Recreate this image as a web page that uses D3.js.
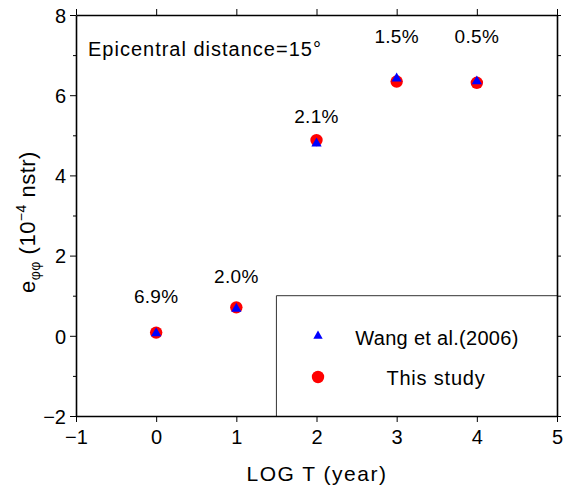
<!DOCTYPE html>
<html><head><meta charset="utf-8">
<script src="https://cdn.jsdelivr.net/npm/d3@7"></script>
<style>body{margin:0;background:#fff}text{font-family:"Liberation Sans",Arial,Helvetica,sans-serif;fill:#000}</style>
</head><body><svg id="c" width="563" height="486"></svg>
<script>
const logT = [0, 1, 2, 3, 4];
const wang = [0.09, 0.70, 4.82, 6.44, 6.37];
const thisStudy = [0.08, 0.71, 4.88, 6.34, 6.31];
const pctLabels = ["6.9%", "2.0%", "2.1%", "1.5%", "0.5%"];
const pctY = [0.81, 1.31, 5.3, 7.31, 7.31];
const xTicks = [-1, 0, 1, 2, 3, 4, 5];
const yTicks = [-2, 0, 2, 4, 6, 8];
const yMinor = [-1, 1, 3, 5, 7];
const yAll = [-2, -1, 0, 1, 2, 3, 4, 5, 6, 7, 8];

const svg = d3.select("#c");
const L = 76, R = 557, T = 15, B = 416;
const x = d3.scaleLinear().domain([-1, 5]).range([L, R]);
const y = d3.scaleLinear().domain([-2, 8]).range([B, T]);
const fmt = d => d < 0 ? "\u2212" + Math.abs(d) : String(d);

// legend box
svg.append("path").attr("d", `M${x(1.5)},${B} V${y(1)} H${R}`)
  .attr("fill", "none").attr("stroke", "#333").attr("stroke-width", 1);

// bottom axis
const gb = svg.append("g").attr("transform", `translate(0,${B})`)
  .call(d3.axisBottom(x).tickValues(xTicks).tickFormat(fmt).tickSize(6).tickSizeOuter(0));
// left axis
const gl = svg.append("g").attr("transform", `translate(${L},0)`)
  .call(d3.axisLeft(y).tickValues(yTicks).tickFormat(fmt).tickSize(6).tickSizeOuter(0));
svg.append("g").attr("transform", `translate(${L},0)`)
  .call(d3.axisLeft(y).tickValues(yMinor).tickFormat("").tickSize(3).tickSizeOuter(0))
  .select(".domain").remove();
// top axis
const gt = svg.append("g").attr("transform", `translate(0,${T})`)
  .call(d3.axisTop(x).tickValues(xTicks).tickFormat("").tickSize(6).tickSizeOuter(0));
// right axis
const gr = svg.append("g").attr("transform", `translate(${R},0)`)
  .call(d3.axisRight(y).tickValues(yAll).tickFormat("").tickSize(4).tickSizeOuter(0));

svg.selectAll(".domain").attr("stroke", "#000").attr("stroke-width", 1.6);
svg.selectAll(".tick line").attr("stroke", "#000").attr("stroke-width", 1);
svg.selectAll(".tick text").attr("font-size", 20).style("font-family", '"Liberation Sans",Arial,sans-serif').attr("fill", "#000");
gb.selectAll(".tick text").attr("dy", "0").attr("y", 28);
gl.selectAll(".tick text").attr("x", -10).attr("dy", "0.36em");

// points
svg.selectAll("circle.s").data(logT).enter().append("circle")
  .attr("cx", d => x(d)).attr("cy", (d, i) => y(thisStudy[i])).attr("r", 6.2).attr("fill", "#ff0000");
const tri = d3.symbol().type(d3.symbolTriangle);
svg.selectAll("path.w").data(logT).enter().append("path")
  .attr("d", tri.size(46)())
  .attr("transform", (d, i) => `translate(${x(d)},${y(wang[i]) + 1})`).attr("fill", "#0000ff");

// percent labels
svg.selectAll("text.p").data(logT).enter().append("text")
  .attr("x", d => x(d)).attr("y", (d, i) => y(pctY[i]))
  .attr("text-anchor", "middle").attr("font-size", 19).style("letter-spacing", "0.3px").text((d, i) => pctLabels[i]);

// annotation
svg.append("text").attr("x", 88).attr("y", 56).attr("font-size", 20).style("letter-spacing", "1px")
  .text("Epicentral distance=15°");

// legend
svg.append("path").attr("d", tri.size(38)()).attr("transform", `translate(318,336)`).attr("fill", "#0000ff");
svg.append("circle").attr("cx", 318).attr("cy", 377).attr("r", 6.2).attr("fill", "#ff0000");
svg.append("text").attr("x", 437).attr("y", 345).attr("text-anchor", "middle").attr("font-size", 20).style("letter-spacing", "0.3px").text("Wang et al.(2006)");
svg.append("text").attr("x", 436).attr("y", 385).attr("text-anchor", "middle").attr("font-size", 20).style("letter-spacing", "0.8px").text("This study");

// axis titles
svg.append("text").attr("x", 317).attr("y", 481).attr("text-anchor", "middle").attr("font-size", 21)
  .style("letter-spacing", "1.5px").text("LOG T (year)");
const yl = svg.append("text").attr("transform", `translate(35,222) rotate(-90)`)
  .attr("text-anchor", "middle").attr("font-size", 22).style("letter-spacing", "0.5px");
yl.append("tspan").text("e");
yl.append("tspan").attr("font-size", 14).attr("dy", 5).text("\u03c6\u03c6");
yl.append("tspan").attr("dy", -5).text(" (10");
yl.append("tspan").attr("font-size", 14).attr("dy", -9).text("\u22124");
yl.append("tspan").attr("dy", 9).text(" nstr)");
</script></body></html>
